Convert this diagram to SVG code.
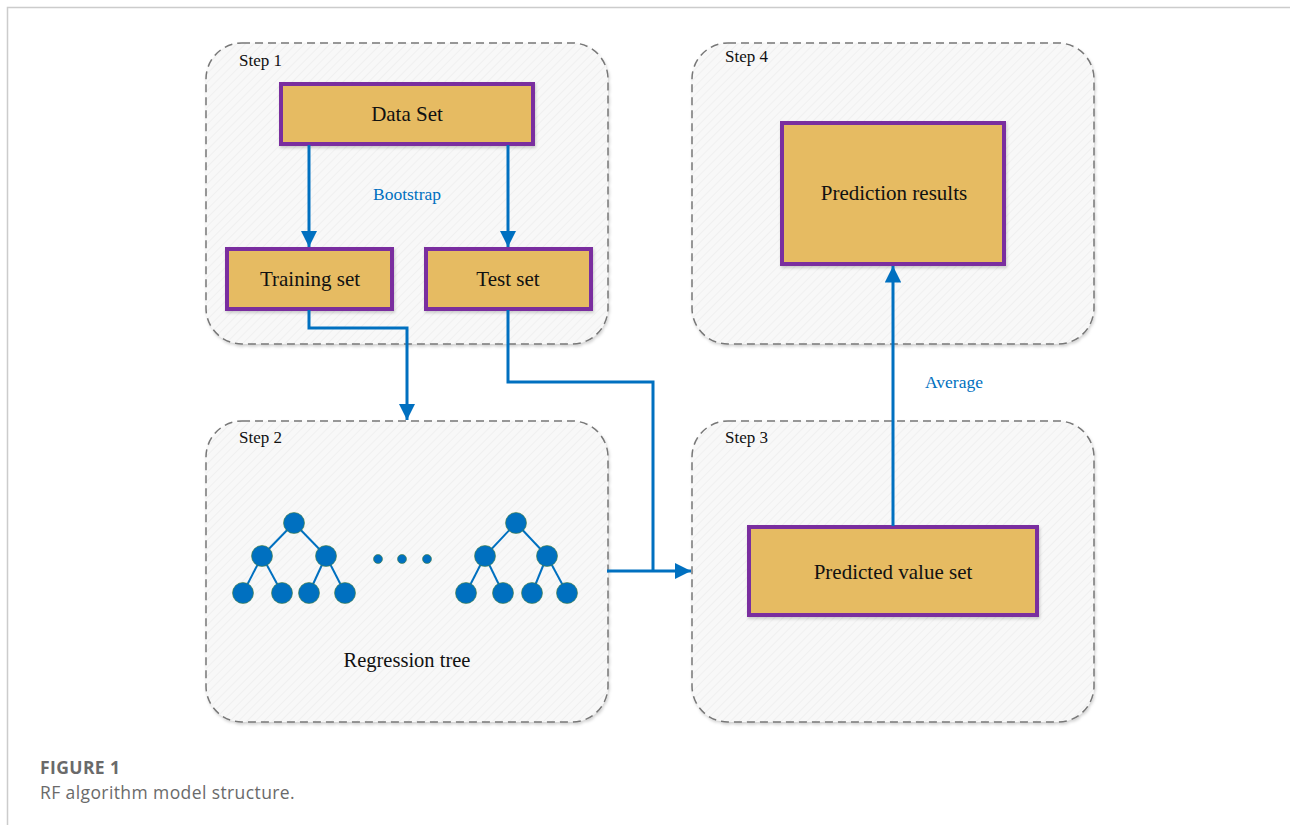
<svg xmlns="http://www.w3.org/2000/svg" width="1290" height="825" viewBox="0 0 1290 825">
  <defs>
    <pattern id="hatch" width="6" height="6" patternUnits="userSpaceOnUse" patternTransform="rotate(45)">
      <rect width="6" height="6" fill="#f8f8f8"/>
      <line x1="0" y1="0" x2="0" y2="6" stroke="#eeeeee" stroke-width="1.5"/>
    </pattern>
    <filter id="shadow" x="-10%" y="-10%" width="120%" height="125%">
      <feDropShadow dx="1" dy="2" stdDeviation="1.5" flood-color="#000" flood-opacity="0.18"/>
    </filter>
    <marker id="arrow" viewBox="0 0 10 10" refX="10" refY="5" markerWidth="5.5" markerHeight="5.5" markerUnits="strokeWidth" orient="auto">
      <path d="M0,0 L10,5 L0,10 Z" fill="#0070C0"/>
    </marker>
  </defs>
  <style>
    .panel { fill: url(#hatch); stroke: #777; stroke-width: 1.5; stroke-dasharray: 8 5; filter: url(#shadow); }
    .box { fill: #E6BB62; stroke: #7A2F9F; stroke-width: 4; filter: url(#shadow); }
    .step { font-family: "Liberation Serif", serif; font-size: 17px; fill: #111; }
    .lbl { font-family: "Liberation Serif", serif; font-size: 21px; fill: #111; text-anchor: middle; }
    .blue { font-family: "Liberation Serif", serif; font-size: 17.5px; fill: #0070C0; text-anchor: middle; }
    .conn { fill: none; stroke: #0070C0; stroke-width: 3; }
    .edge { stroke: #0070C0; stroke-width: 2; }
    .tn { fill: #0070C0; stroke: #4a7f3a; stroke-width: 0.6; }
    .cap { font-family: "Open Sans", "Lato", sans-serif; font-size: 17.5px; letter-spacing: 0.4px; fill: #6a6a6a; }
  </style>

  <rect width="1290" height="825" fill="#ffffff"/>
  <!-- page frame -->
  <path d="M7.5,825 V7.5 H1290" fill="none" stroke="#cccccc" stroke-width="1.5"/>

  <!-- step panels -->
  <g id="step1">
    <rect class="panel" x="206" y="43" width="402" height="301" rx="36"/>
    <text class="step" x="239" y="66">Step 1</text>
  </g>
  <g id="step4">
    <rect class="panel" x="692" y="43" width="402" height="301" rx="36"/>
    <text class="step" x="725" y="62">Step 4</text>
  </g>
  <g id="step2">
    <rect class="panel" x="206" y="421" width="402" height="301" rx="36"/>
    <text class="step" x="239" y="443">Step 2</text>
  </g>
  <g id="step3">
    <rect class="panel" x="692" y="421" width="402" height="301" rx="36"/>
    <text class="step" x="725" y="443">Step 3</text>
  </g>

  <!-- process boxes -->
  <g id="data-set">
    <rect class="box" x="281" y="84" width="252" height="60"/>
    <text class="lbl" x="407" y="121">Data Set</text>
  </g>
  <g id="training-set">
    <rect class="box" x="227" y="249" width="165" height="60"/>
    <text class="lbl" x="310" y="286">Training set</text>
  </g>
  <g id="test-set">
    <rect class="box" x="426" y="249" width="165" height="60"/>
    <text class="lbl" x="508" y="286">Test set</text>
  </g>
  <g id="prediction-results">
    <rect class="box" x="782" y="123" width="222" height="141"/>
    <text class="lbl" x="894" y="200">Prediction results</text>
  </g>
  <g id="predicted-value-set">
    <rect class="box" x="749" y="527" width="288" height="88"/>
    <text class="lbl" x="893" y="579">Predicted value set</text>
  </g>

  <!-- regression trees -->
  <g id="regression-tree">
    <g id="tree-1">
      <line class="edge" x1="294" y1="523" x2="262" y2="556"/>
      <line class="edge" x1="294" y1="523" x2="326" y2="556"/>
      <line class="edge" x1="262" y1="556" x2="243" y2="593"/>
      <line class="edge" x1="262" y1="556" x2="282" y2="593"/>
      <line class="edge" x1="326" y1="556" x2="309" y2="593"/>
      <line class="edge" x1="326" y1="556" x2="345" y2="593"/>
      <circle class="tn" cx="294" cy="523" r="10.5"/>
      <circle class="tn" cx="262" cy="556" r="10.5"/>
      <circle class="tn" cx="326" cy="556" r="10.5"/>
      <circle class="tn" cx="243" cy="593" r="10.5"/>
      <circle class="tn" cx="282" cy="593" r="10.5"/>
      <circle class="tn" cx="309" cy="593" r="10.5"/>
      <circle class="tn" cx="345" cy="593" r="10.5"/>
    </g>
    <circle class="tn" cx="378" cy="559" r="4.5"/>
    <circle class="tn" cx="402" cy="559" r="4.5"/>
    <circle class="tn" cx="427" cy="559" r="4.5"/>
    <g id="tree-n">
      <line class="edge" x1="516" y1="523" x2="485" y2="556"/>
      <line class="edge" x1="516" y1="523" x2="547" y2="556"/>
      <line class="edge" x1="485" y1="556" x2="466" y2="593"/>
      <line class="edge" x1="485" y1="556" x2="503" y2="593"/>
      <line class="edge" x1="547" y1="556" x2="532" y2="593"/>
      <line class="edge" x1="547" y1="556" x2="567" y2="593"/>
      <circle class="tn" cx="516" cy="523" r="10.5"/>
      <circle class="tn" cx="485" cy="556" r="10.5"/>
      <circle class="tn" cx="547" cy="556" r="10.5"/>
      <circle class="tn" cx="466" cy="593" r="10.5"/>
      <circle class="tn" cx="503" cy="593" r="10.5"/>
      <circle class="tn" cx="532" cy="593" r="10.5"/>
      <circle class="tn" cx="567" cy="593" r="10.5"/>
    </g>
    <text class="lbl" x="407" y="667" style="font-size:20.5px">Regression tree</text>
  </g>

  <!-- connectors -->
  <g id="connectors">
    <path class="conn" d="M309,145 V247" marker-end="url(#arrow)"/>
    <path class="conn" d="M508,145 V247" marker-end="url(#arrow)"/>
    <path class="conn" d="M309,310 V328 H407 V420" marker-end="url(#arrow)"/>
    <path class="conn" d="M508,310 V382 H653 V571"/>
    <path class="conn" d="M607,571 H691" marker-end="url(#arrow)"/>
    <path class="conn" d="M893,526 V266" marker-end="url(#arrow)"/>
    <text class="blue" x="407" y="200">Bootstrap</text>
    <text class="blue" x="954" y="388">Average</text>
  </g>

  <!-- caption -->
  <text class="cap" x="40" y="774" style="font-weight:bold">FIGURE 1</text>
  <text class="cap" x="40" y="799">RF algorithm model structure.</text>
</svg>
